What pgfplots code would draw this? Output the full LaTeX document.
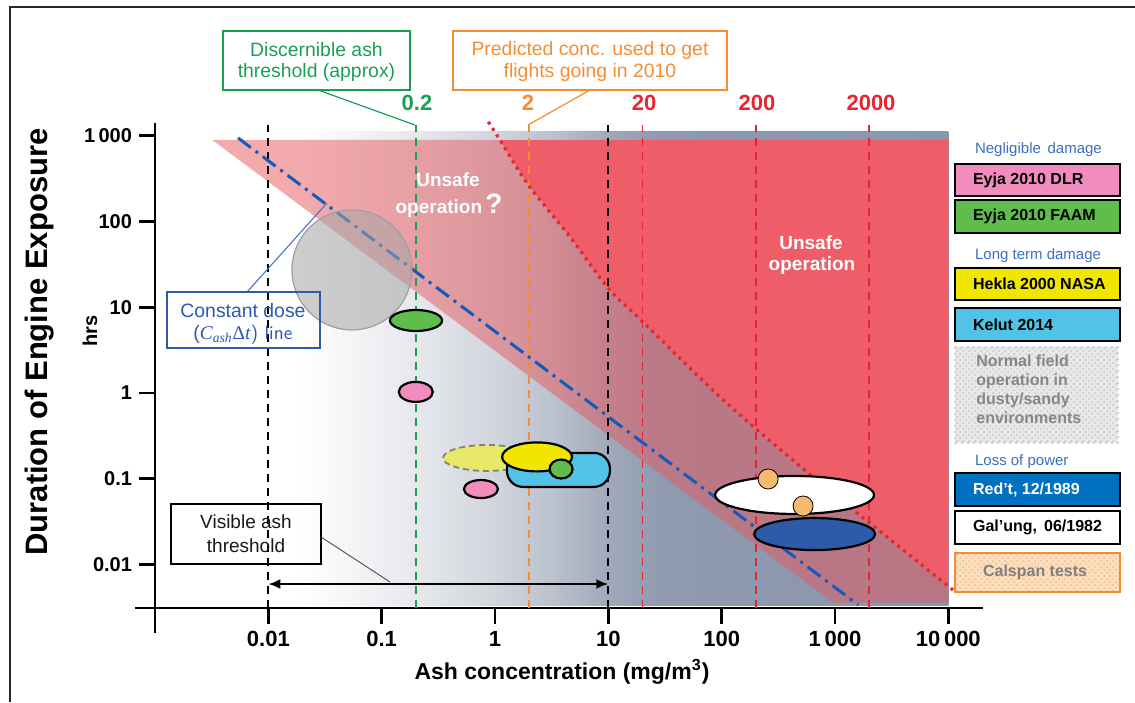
\documentclass[border=0pt]{standalone}
\usepackage{pgfplots}
\pgfplotsset{compat=1.18}
\usepackage{fontspec}
\setmainfont{Liberation Sans}
\newfontfamily\serifit{Liberation Serif}
\usetikzlibrary{patterns,arrows.meta}

\definecolor{gA}{RGB}{230,232,236}
\definecolor{gB}{RGB}{208,212,220}
\definecolor{gC}{RGB}{184,191,203}
\definecolor{gD}{RGB}{160,169,185}
\definecolor{gE}{RGB}{143,154,176}
\definecolor{gF}{RGB}{138,150,172}
\definecolor{pinkR}{RGB}{231,87,93}
\definecolor{redR}{RGB}{239,94,104}
\definecolor{redL}{RGB}{232,36,48}
\definecolor{greenT}{RGB}{25,160,85}
\definecolor{orangeT}{RGB}{245,140,50}
\definecolor{blueD}{RGB}{20,90,190}
\definecolor{blueT}{RGB}{60,110,190}
\definecolor{lpink}{RGB}{240,140,190}
\definecolor{lgreen}{RGB}{95,190,75}
\definecolor{lyellow}{RGB}{240,230,0}
\definecolor{lcyan}{RGB}{80,195,230}
\definecolor{lblue}{RGB}{0,112,192}
\definecolor{eblue}{RGB}{45,90,170}
\definecolor{dyellow}{RGB}{232,232,105}
\definecolor{calsp}{RGB}{247,185,110}

\pgfdeclarehorizontalshading{ashgrad}{100bp}{color(0bp)=(white); color(30.9bp)=(white); color(38.8bp)=(gA); color(44.5bp)=(gB); color(48.6bp)=(gC); color(51.9bp)=(gD); color(55.4bp)=(gE); color(75bp)=(gF); color(100bp)=(gF)}

% rounded rectangle mark (half width 25.75pt, half height 8.5pt, corner radius 8pt)
\pgfdeclareplotmark{kelut}{%
  \pgfpathmoveto{\pgfpoint{-17.75pt}{-8.5pt}}%
  \pgfpathlineto{\pgfpoint{17.75pt}{-8.5pt}}%
  \pgfpatharc{-90}{0}{8pt}%
  \pgfpathlineto{\pgfpoint{25.75pt}{0.5pt}}%
  \pgfpatharc{0}{90}{8pt}%
  \pgfpathlineto{\pgfpoint{-17.75pt}{8.5pt}}%
  \pgfpatharc{90}{180}{8pt}%
  \pgfpathlineto{\pgfpoint{-25.75pt}{-0.5pt}}%
  \pgfpatharc{180}{270}{8pt}%
  \pgfpathclose
  \pgfusepathqfillstroke}

\newcommand\fs[1]{\fontsize{#1}{#1}\selectfont}
\tikzset{px/.style={x=0.5pt,y=-0.5pt,shift={(-155,-608)}}}

\begin{document}
\begin{tikzpicture}
\path[px, use as bounding box] (0,0) rectangle (1135,702);
\begin{axis}[
  scale only axis, width=414pt, height=242.5pt,
  xmode=log, ymode=log,
  xmin=1e-3, xmax=20230, ymin=0.00312, ymax=1403,
  axis x line*=bottom, axis y line*=left,
  axis line style={line width=1.4pt, black, -},
  xtick={0.01,0.1,1,10,100,1000,10000},
  xticklabels={0.01,0.1,1,10,100,1\,000,10\,000},
  ytick={0.01,0.1,1,10,100,1000},
  yticklabels={0.01,0.1,1,10,100,1\,000},
  xminorticks=false, yminorticks=false,
  tick align=outside,
  major tick length=8pt,
  every tick/.style={black, line width=1.4pt},
  xticklabel style={font=\bfseries\fs{11}},
  yticklabel style={font=\bfseries\fs{10}},
  clip=false,
]
% background gradient
\addplot[draw=none, shade, shading=ashgrad] coordinates {(0.0032,0.0033) (10000,0.0033) (10000,1130) (0.0032,1130)} -- cycle;
% pink zone
\addplot[draw=none, fill=pinkR, fill opacity=0.5] coordinates {(0.0032,890) (10000,890) (10000,0.0036) (960,0.0036)} -- cycle;
% normal field operation circle
\addplot[only marks, mark=*, mark size=30pt, mark options={fill=gray!70, fill opacity=0.55, draw=gray!75, line width=0.6pt}] coordinates {(0.0547,27.2)};
% red zone
\addplot[draw=none, fill=redR] coordinates {(1.107,889) (1.967,265.7) (4.59,66.3) (9.99,16.6) (20.1,6.78) (103.5,0.829) (640,0.105) (10000,0.00563) (10000,889)} -- cycle;
% vertical dashed lines
\addplot[black, line width=1pt, dash pattern=on 4pt off 3pt] coordinates {(0.01,0.00312) (0.01,1330)};
\addplot[black, line width=1pt, dash pattern=on 4pt off 3pt] coordinates {(10,0.00312) (10,1330)};
\addplot[greenT, line width=0.9pt, dash pattern=on 4pt off 3pt] coordinates {(0.2,0.00312) (0.2,1330)};
\addplot[orangeT, line width=0.9pt, dash pattern=on 4pt off 3pt] coordinates {(2,0.00312) (2,1330)};
\addplot[redL, line width=0.9pt, dash pattern=on 4pt off 3pt] coordinates {(20,0.00312) (20,1330)};
\addplot[redL, line width=0.9pt, dash pattern=on 4pt off 3pt] coordinates {(200,0.00312) (200,1330)};
\addplot[redL, line width=0.9pt, dash pattern=on 4pt off 3pt] coordinates {(2000,0.00312) (2000,1330)};
% constant dose line
\addplot[blueD, line width=1.5pt, dash pattern=on 8pt off 3pt on 1.5pt off 3pt] coordinates {(0.0054,940) (1600,0.0034)};
% dotted boundary curve
\addplot[redL, line width=1.6pt, dash pattern=on 1.5pt off 2.3pt, smooth] coordinates {(0.873,1452) (1.107,889) (1.967,265.7) (4.59,66.3) (9.99,16.6) (20.1,6.78) (103.5,0.829) (640,0.105) (11000,0.00506)};
% visible ash arrow
\addplot[black, line width=1.2pt, {Latex[length=6pt,width=5pt]}-{Latex[length=6pt,width=5pt]}] coordinates {(0.01,0.00594) (10,0.00594)};
% data ellipses
\addplot[only marks, mark=*, mark size=5.25pt, mark options={xscale=2.48, fill=lgreen, draw=black, line width=1.1pt}] coordinates {(0.201,7.0)};
\addplot[only marks, mark=*, mark size=5pt, mark options={xscale=1.7, fill=lpink, draw=black, line width=1.1pt}] coordinates {(0.2,1.03)};
\addplot[only marks, mark=*, mark size=4.5pt, mark options={xscale=1.89, fill=lpink, draw=black, line width=1.1pt}] coordinates {(0.752,0.076)};
\addplot[only marks, mark=*, mark size=6.5pt, mark options={xscale=3.38, fill=dyellow, draw=gray, line width=0.9pt, dash pattern=on 3pt off 2pt}] coordinates {(0.85,0.175)};
\addplot[only marks, mark=kelut, mark options={fill=lcyan, draw=black, line width=1.1pt}] coordinates {(3.63,0.127)};
\addplot[only marks, mark=*, mark size=7.25pt, mark options={xscale=2.41, fill=lyellow, draw=black, line width=1.1pt}] coordinates {(2.35,0.18)};
\addplot[only marks, mark=*, mark size=4.75pt, mark options={xscale=1.21, fill=lgreen, draw=black, line width=1.1pt}] coordinates {(3.83,0.13)};
\addplot[only marks, mark=*, mark size=9.5pt, mark options={xscale=4.18, fill=white, draw=black, line width=1.1pt}] coordinates {(440,0.0648)};
\addplot[only marks, mark=*, mark size=8pt, mark options={xscale=3.78, fill=eblue, draw=black, line width=1.1pt}] coordinates {(661,0.0227)};
\addplot[only marks, mark=*, mark size=5pt, mark options={fill=calsp, draw=none}] coordinates {(257,0.0995) (523,0.0482)};
\end{axis}

\begin{scope}[px]
% frame
\draw[line width=1pt, gray!30!black] (10,702) -- (10,7) -- (1135,7);
% axis extensions
\draw[line width=1.4pt] (135,608) -- (155,608);
\draw[line width=1.4pt] (155,608) -- (155,633);
% axis titles
\node[font=\bfseries\fs{11.5}] at (562,672) {Ash concentration (mg/m\textsuperscript{3})};
\node[font=\bfseries\fs{15.5}, rotate=90] at (40,342) {Duration of Engine Exposure};
\node[font=\bfseries\fs{10}, rotate=90] at (90,331) {hrs};
% callouts
\draw[greenT, line width=0.8pt] (223,31) rectangle (410,90);
\node[greenT, font=\fs{9.7}] at (316.5,50) {Discernible ash};
\node[greenT, font=\fs{9.7}] at (316.5,72) {threshold (approx)};
\draw[greenT, line width=0.6pt] (318,90) -- (415,125);
\node[greenT, font=\bfseries\fs{11}] at (417,103) {0.2};
\draw[orangeT, line width=0.8pt] (453,31) rectangle (727,90);
\node[orangeT, font=\fs{9.7}] at (590,50) {Predicted conc. used to get};
\node[orangeT, font=\fs{9.7}] at (590,72) {flights going in 2010};
\draw[orangeT, line width=0.6pt] (590,90) -- (528,125);
\node[orangeT, font=\bfseries\fs{11}] at (528,103) {2};
\node[redL, font=\bfseries\fs{11}] at (644,103) {20};
\node[redL, font=\bfseries\fs{11}] at (757,103) {200};
\node[redL, font=\bfseries\fs{11}] at (871,103) {2000};
% unsafe labels
\node[white, font=\bfseries\fs{9.5}] at (448,180) {Unsafe};
\node[white, font=\bfseries\fs{9.5}] at (449,206) {operation\,{\fs{14}?}};
\node[white, font=\bfseries\fs{9.5}] at (811,243) {Unsafe};
\node[white, font=\bfseries\fs{9.5}] at (812,266) {operation};
% constant dose callout
\draw[blueT, line width=0.5pt] (247,292) -- (327,203);
\draw[eblue, line width=0.9pt] (167,292) rectangle (320,348);
\node[eblue, font=\fs{9.7}] at (243,311) {Constant dose};
\node[eblue, font=\fs{9.7}] at (243,335) {(\serifit\itshape C\textsubscript{ash}\upshape Δ\itshape t\sffamily\upshape) line};
% visible ash callout
\draw[gray!70!black, line width=0.5pt] (321,537) -- (390,582);
\draw[black, line width=0.9pt] (171,504) rectangle (321,564);
\node[gray!20!black, font=\fs{9.5}] at (246,522) {Visible ash};
\node[gray!20!black, font=\fs{9.5}] at (246,546) {threshold};
% legend
\node[blueT, font=\fs{7.5}, anchor=west] at (968,150) {Negligible\, damage};
\draw[line width=1.1pt, fill=lpink] (955,164) rectangle (1120,196);
\node[font=\bfseries\fs{8}, anchor=west] at (966,180) {Eyja 2010 DLR};
\draw[line width=1.1pt, fill=lgreen] (955,200) rectangle (1120,233);
\node[font=\bfseries\fs{8}, anchor=west] at (966,216.5) {Eyja 2010 FAAM};
\node[blueT, font=\fs{7.5}, anchor=west] at (968,256) {Long term damage};
\draw[line width=1.1pt, fill=lyellow] (955,268) rectangle (1120,300);
\node[font=\bfseries\fs{8}, anchor=west] at (966,284) {Hekla 2000 NASA};
\draw[line width=1.1pt, fill=lcyan] (955,308) rectangle (1120,341);
\node[font=\bfseries\fs{8}, anchor=west] at (966,324.5) {Kelut 2014};
\fill[gray!18] (955,347) rectangle (1118,443);
\fill[pattern=crosshatch dots, pattern color=gray!45] (955,347) rectangle (1118,443);
\draw[gray!35, line width=1pt, dotted] (955,347) rectangle (1118,443);
\node[gray!95!white, font=\bfseries\fontsize{8}{9.4}\selectfont, anchor=north west, align=left, inner sep=0pt] at (976,355) {Normal field\\operation in\\dusty/sandy\\environments};
\node[blueT, font=\fs{7.5}, anchor=west] at (968,462) {Loss of power};
\draw[line width=1.1pt, fill=lblue] (955,473) rectangle (1120,506);
\node[white, font=\bfseries\fs{8}, anchor=west] at (966,489.5) {Red’t, 12/1989};
\draw[line width=1.1pt, fill=white] (955,511) rectangle (1120,544);
\node[font=\bfseries\fs{8}, anchor=west] at (966,527.5) {Gal’ung,\, 06/1982};
\fill[calsp!45] (955,553) rectangle (1120,592);
\fill[pattern=crosshatch dots, pattern color=orangeT!60] (955,553) rectangle (1120,592);
\draw[orangeT, line width=1pt] (955,553) rectangle (1120,592);
\node[gray, font=\bfseries\fs{8}, anchor=west] at (976,572.5) {Calspan tests};
\end{scope}
\end{tikzpicture}
\end{document}
